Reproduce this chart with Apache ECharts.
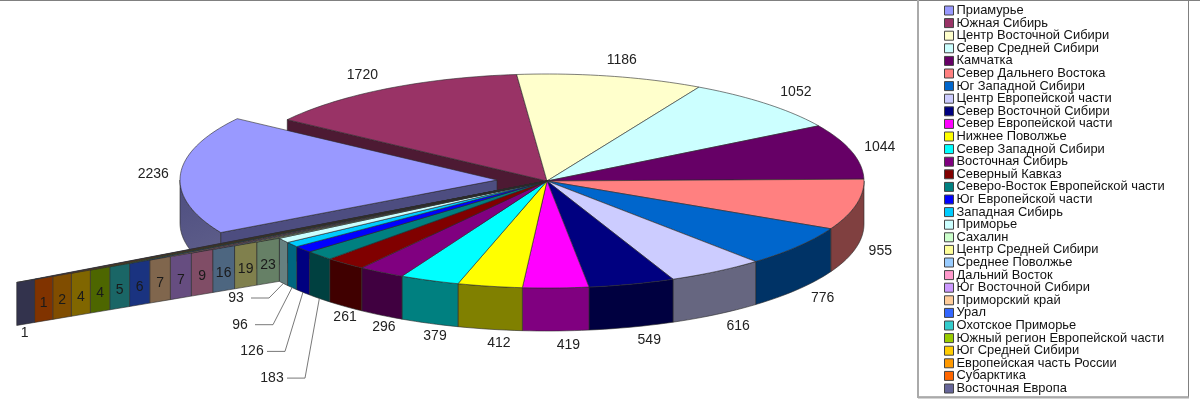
<!DOCTYPE html>
<html><head><meta charset="utf-8">
<style>html,body{margin:0;padding:0;background:#fff}#c{width:1200px;height:402px}</style>
<script src="https://cdn.jsdelivr.net/npm/echarts@6/dist/echarts.min.js"></script>
</head><body><div id="c"></div>
<script>
const names=["Приамурье","Южная Сибирь","Центр Восточной Сибири","Север Средней Сибири","Камчатка","Север Дальнего Востока","Юг Западной Сибири","Центр Европейской части","Север Восточной Сибири","Север Европейской части","Нижнее Поволжье","Север Западной Сибири","Восточная Сибирь","Северный Кавказ","Северо-Восток Европейской части","Юг Европейской части","Западная Сибирь","Приморье","Сахалин","Центр Средней Сибири","Среднее Поволжье","Дальний Восток","Юг Восточной Сибири","Приморский край","Урал","Охотское Приморье","Южный регион Европейской части","Юг Средней Сибири","Европейская часть России","Субарктика","Восточная Европа"];
const values=[2236,1720,1186,1052,1044,955,776,616,549,419,412,379,296,261,183,126,96,93,23,19,16,9,7,7,6,5,4,4,2,1,1];
const colors=["#9999FF","#993366","#FFFFCC","#CCFFFF","#660066","#FF8080","#0066CC","#CCCCFF","#000080","#FF00FF","#FFFF00","#00FFFF","#800080","#800000","#008080","#0000FF","#00CCFF","#CCFFFF","#CCFFCC","#FFFF99","#99CCFF","#FF99CC","#CC99FF","#FFCC99","#3366FF","#33CCCC","#99CC00","#FFCC00","#FF9900","#FF6600","#666699"];

const CX=547,CY=181,RX=317,RY=107,DEPTH=43,EX=-50,EY=-1,START=240.6,FONT='14px "Liberation Sans",Arial,sans-serif';
const TAIL=18, LEADER_FROM=14, LEADER_TO=17;
const total=values.reduce((a,b)=>a+b,0);
const bounds=[START];
values.forEach(v=>bounds.push(bounds[bounds.length-1]+v/total*360));
function ell(deg){const r=deg*Math.PI/180;return [CX+RX*Math.sin(r),CY-RY*Math.cos(r)];}
const base=ell(bounds[TAIL]);
function tailPt(k){let x=base[0];for(let j=0;j<k;j++)x-=22.6-0.4*j;return [x,base[1]+(base[0]-x)*0.168];}
function shade(c){const n=parseInt(c.slice(1),16);const h=v=>Math.round(v/2).toString(16).padStart(2,'0');return '#'+h(n>>16&255)+h(n>>8&255)+h(n&255);}
function arc(a,b){const n=Math.max(2,Math.ceil((b-a)/1.5)),o=[];for(let i=0;i<=n;i++)o.push(ell(a+(b-a)*i/n));return o;}
function down(p){return [p[0],p[1]+DEPTH];}
function poly(points,fill,stroke){return {type:'polygon',shape:{points},style:{fill,stroke:stroke||'#2a2a2a',lineWidth:0.6}};}
function label(text,x,y,fill){return {type:'text',style:{text:String(text),x,y,align:'center',verticalAlign:'middle',font:FONT,fill:fill||'#222'}};}

function render(i){
  return function(){
    const kids=[],v=values[i],col=colors[i],side=shade(col);
    let a=bounds[i],b=bounds[i+1];
    if(a>=360){a-=360;b-=360;}
    const mid=(a+b)/2;
    if(i>=TAIL){
      const k=i-TAIL,p=tailPt(k),q=tailPt(k+1);
      kids.push(poly([[CX,CY],p,q],col));
      kids.push(poly([p,q,down(q),down(p)],side));
      const mx=(p[0]+q[0])/2,my=(p[1]+q[1])/2;
      if(i===values.length-1) kids.push(label(v,q[0]+8,q[1]+DEPTH+8));
      else kids.push(label(v,mx,my+25,'#1a1a1a'));
      return {type:'group',children:kids};
    }
    const ox=i===0?EX:0,oy=i===0?EY:0;
    const rim=arc(a,b).map(p=>[p[0]+ox,p[1]+oy]);
    const cen=[CX+ox,CY+oy];
    if(i===1){const c=rim[0];kids.push(poly([[CX,CY],c,down(c),[CX,CY+DEPTH]],side));}
    const s=Math.max(a,90),e=Math.min(b,270);
    if(s<e){
      const band=arc(s,e).map(p=>[p[0]+ox,p[1]+oy]);
      const fill=i===0?{type:'linear',x:0,y:0,x2:1,y2:1,colorStops:[{offset:0,color:'#4d4d80'},{offset:1,color:'#62628c'}]}:side;
      kids.push(poly(band.concat(band.map(down).reverse()),fill));
    }
    if(i===0){kids.push(poly([cen,rim[0],down(rim[0]),down(cen)],side));}
    kids.push(poly([cen].concat(rim),col));
    const r=mid*Math.PI/180,sn=Math.sin(r),cs=Math.cos(r);
    const m=ell(mid);m[0]+=ox;m[1]+=oy;
    if(i>=LEADER_FROM&&i<=LEADER_TO){
      const j=LEADER_TO-i,t=(j/3);
      const lx=236+36*t*t,ly=298+26.7*j;
      kids.push({type:'polyline',shape:{points:[down(m),[lx+33,ly],[lx+15,ly]]},style:{stroke:'#555',lineWidth:0.8,fill:null}});
      kids.push(label(v,lx,ly));
    }else{
      const dx=cs>=0?sn*(27+30*cs*cs):(sn>0?22*sn:15*sn)-12*cs;
      const dy=cs<0?DEPTH-14*cs:-16*cs;
      kids.push(label(v,m[0]+dx,m[1]+dy));
    }
    return {type:'group',children:kids};
  };
}
const order=[1,0];for(let i=2;i<values.length;i++)order.push(i);
const series=order.map(i=>({type:'custom',name:names[i],coordinateSystem:'none',renderItem:render(i),data:[[values[i]]],itemStyle:{color:colors[i]},silent:true,animation:false,clip:false}));
const chart=echarts.init(document.getElementById('c'),null,{renderer:'canvas'});
chart.setOption({
  animation:false,backgroundColor:'#fff',
  legend:{show:true,orient:'vertical',left:944,top:4,padding:0,itemWidth:9,itemHeight:9,itemGap:-0.4,icon:'rect',selectedMode:false,
    data:names,itemStyle:{borderColor:'#444',borderWidth:1},
    textStyle:{fontFamily:'"Liberation Sans",Arial,sans-serif',fontSize:12.9,color:'#111',lineHeight:12,height:12,padding:[0,0,0,-2]}},
  graphic:[
    {type:'line',shape:{x1:0,y1:0.5,x2:1200,y2:0.5},style:{stroke:'#808080',lineWidth:1}},
    {type:'rect',shape:{x:918.5,y:0.5,width:270,height:396.5},style:{fill:null,stroke:'#808080',lineWidth:1}},
    {type:'line',shape:{x1:918,y1:0,x2:918,y2:398},style:{stroke:'#aaaaaa',lineWidth:2}},
    {type:'line',shape:{x1:918,y1:397.5,x2:1189,y2:397.5},style:{stroke:'#aaaaaa',lineWidth:2}}
  ],
  series
});
</script></body></html>
